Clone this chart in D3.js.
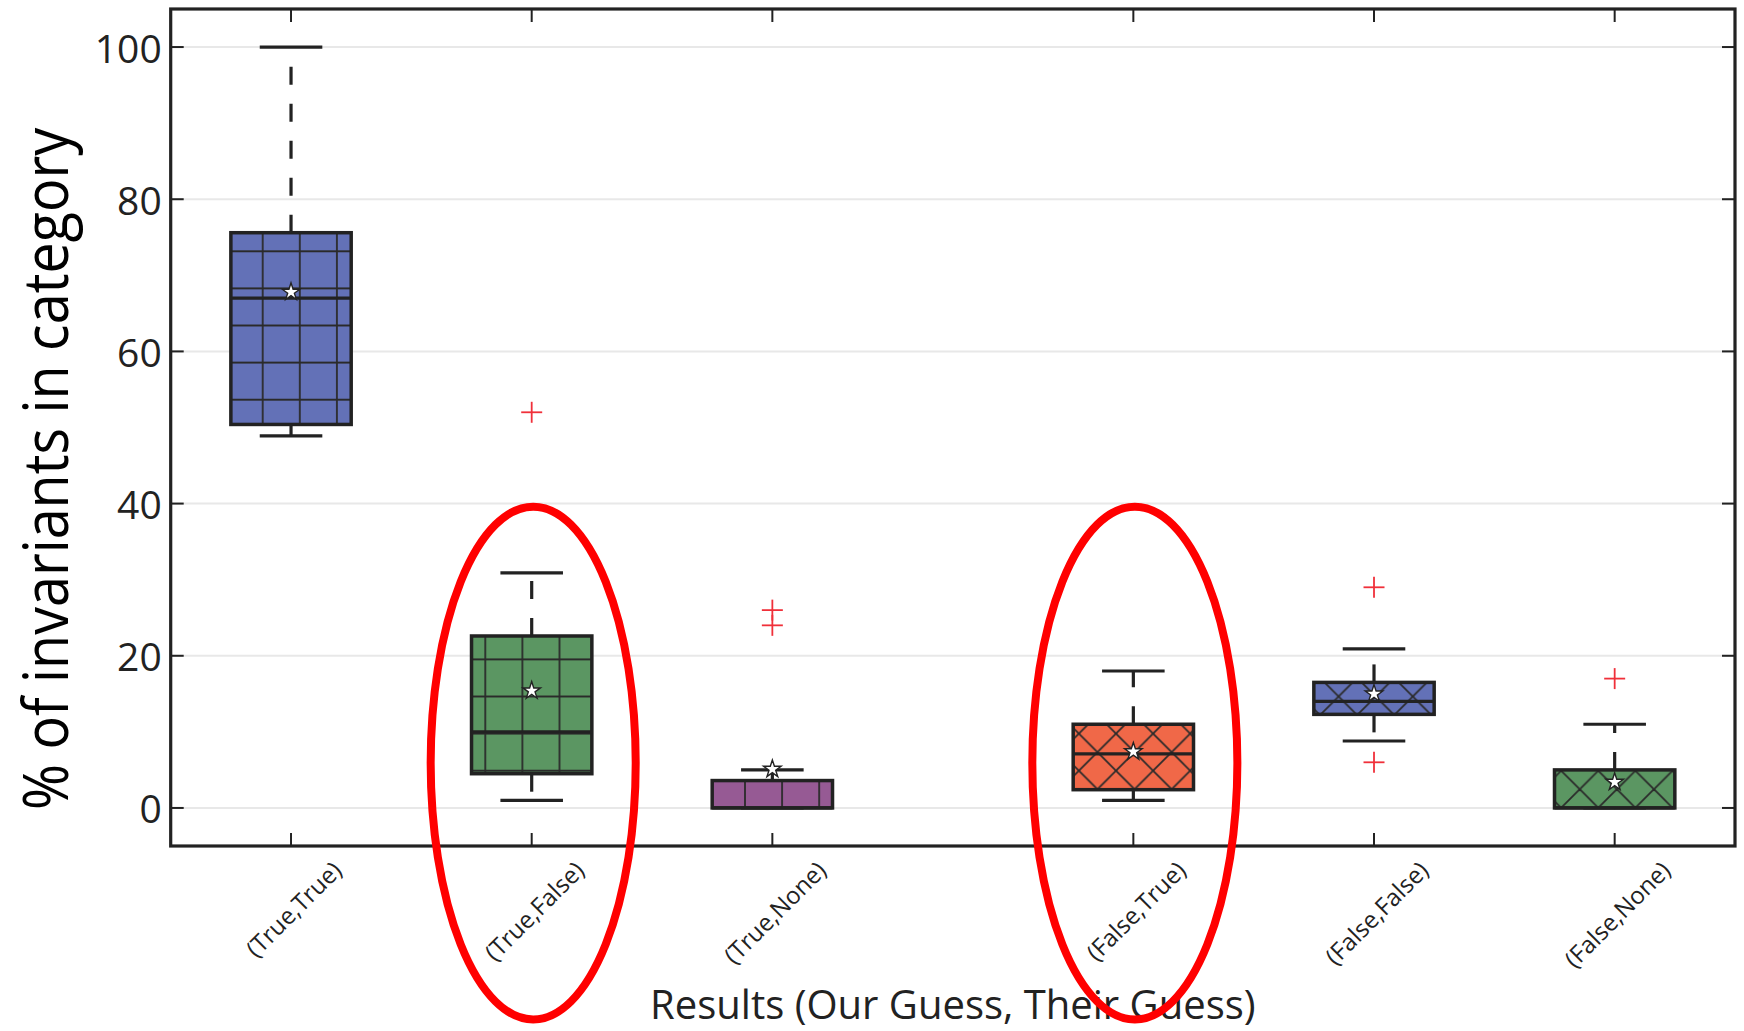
<!DOCTYPE html>
<html>
<head>
<meta charset="utf-8">
<script src="https://cdn.jsdelivr.net/npm/d3@7"></script>
<style>
  body { margin: 0; background: #fff; }
  text { font-family: "Open Sans", sans-serif; }
</style>
</head>
<body>
<div class="chart"></div>
<script>
var categories = ["(True,True)", "(True,False)", "(True,None)", "(False,True)", "(False,False)", "(False,None)"];
var positions = [1, 2, 3, 4.5, 5.5, 6.5];
var q1 = [50.4, 4.5, 0, 2.4, 12.3, 0];
var medians = [67.0, 10.0, 0, 7.1, 14.0, 0];
var q3 = [75.6, 22.6, 3.6, 11.0, 16.5, 5.0];
var whiskLow = [48.9, 1.0, 0, 1.0, 8.8, 0];
var whiskHigh = [100, 30.9, 5.0, 18.0, 20.9, 11.0];
var means = [67.8, 15.4, 5.1, 7.4, 15.0, 3.4];
var outliers = [[], [52], [24, 26], [], [29, 6], [17]];
var yTicks = [0, 20, 40, 60, 80, 100];
var highlighted = ["(True,False)", "(False,True)"];

var fills = ["#6371b7", "#5b9662", "#965a94", "#f06848", "#6371b7", "#5b9662"],
    hatches = ["plus", "plus", "plus", "cross", "cross", "cross"];

var W = 1744, H = 1031,
    pLeft = 170.7, pRight = 1735, pTop = 9, pBottom = 846;

var svg = d3.select(".chart").append("svg")
    .attr("width", W)
    .attr("height", H);

var x = d3.scaleLinear().domain([0.5, 7]).range([pLeft, pRight]);
var y = d3.scaleLinear().domain([-5, 105]).range([pBottom, pTop]);
var unit = x(1) - x(0);

// hatch patterns, tiled from a fixed origin like matplotlib does
var per = 37.1, ox = 262.7 - per / 2, oy = 251.3 - per / 2;
var defs = svg.append("defs");
var pPlus = defs.append("pattern").attr("id", "plus")
    .attr("patternUnits", "userSpaceOnUse")
    .attr("x", ox).attr("y", oy).attr("width", per).attr("height", per);
pPlus.append("line").attr("x1", per / 2).attr("x2", per / 2).attr("y1", 0).attr("y2", per);
pPlus.append("line").attr("y1", per / 2).attr("y2", per / 2).attr("x1", 0).attr("x2", per);
var pCross = defs.append("pattern").attr("id", "cross")
    .attr("patternUnits", "userSpaceOnUse")
    .attr("x", ox).attr("y", oy).attr("width", per).attr("height", per);
pCross.append("line").attr("x1", -2).attr("y1", -2).attr("x2", per + 2).attr("y2", per + 2);
pCross.append("line").attr("x1", -2).attr("y1", per + 2).attr("x2", per + 2).attr("y2", -2);
defs.selectAll("pattern line").attr("stroke", "#2a2a2a").attr("stroke-width", 1.8);

// grid
svg.append("g").selectAll("line")
  .data(yTicks)
  .enter().append("line")
    .attr("x1", pLeft).attr("x2", pRight)
    .attr("y1", d => y(d)).attr("y2", d => y(d))
    .attr("stroke", "#e8e8e8")
    .attr("stroke-width", 2);

var boxes = svg.append("g").selectAll("g")
  .data(categories)
  .enter().append("g");

var bw = 0.5 * unit, cw = 0.26 * unit;

// whiskers
boxes.append("line")
    .attr("x1", (d, i) => x(positions[i])).attr("x2", (d, i) => x(positions[i]))
    .attr("y1", (d, i) => y(q3[i])).attr("y2", (d, i) => y(whiskHigh[i]))
    .attr("stroke", "#222").attr("stroke-width", 3.2)
    .attr("stroke-dasharray", "18,19");
boxes.append("line")
    .attr("x1", (d, i) => x(positions[i])).attr("x2", (d, i) => x(positions[i]))
    .attr("y1", (d, i) => y(q1[i])).attr("y2", (d, i) => y(whiskLow[i]))
    .attr("stroke", "#222").attr("stroke-width", 3.2)
    .attr("stroke-dasharray", "18,19");
[whiskHigh, whiskLow].forEach(arr => {
  boxes.append("line")
      .attr("x1", (d, i) => x(positions[i]) - cw / 2).attr("x2", (d, i) => x(positions[i]) + cw / 2)
      .attr("y1", (d, i) => y(arr[i])).attr("y2", (d, i) => y(arr[i]))
      .attr("stroke", "#222").attr("stroke-width", 3.2);
});

// boxes
boxes.append("rect")
    .attr("x", (d, i) => x(positions[i]) - bw / 2)
    .attr("y", (d, i) => y(q3[i]))
    .attr("width", bw)
    .attr("height", (d, i) => y(q1[i]) - y(q3[i]))
    .attr("fill", (d, i) => fills[i]);
boxes.append("rect")
    .attr("x", (d, i) => x(positions[i]) - bw / 2)
    .attr("y", (d, i) => y(q3[i]))
    .attr("width", bw)
    .attr("height", (d, i) => y(q1[i]) - y(q3[i]))
    .attr("fill", (d, i) => "url(#" + hatches[i] + ")")
    .attr("stroke", "#222")
    .attr("stroke-width", 3.5);

// medians
boxes.append("line")
    .attr("x1", (d, i) => x(positions[i]) - bw / 2).attr("x2", (d, i) => x(positions[i]) + bw / 2)
    .attr("y1", (d, i) => y(medians[i])).attr("y2", (d, i) => y(medians[i]))
    .attr("stroke", "#222").attr("stroke-width", 3.2);

// means
boxes.append("path")
    .attr("d", d3.symbol().type(d3.symbolStar).size(95))
    .attr("transform", (d, i) => "translate(" + x(positions[i]) + "," + y(means[i]) + ")")
    .attr("fill", "#fff")
    .attr("stroke", "#222")
    .attr("stroke-width", 1.4);

// outliers
var flier = [];
outliers.forEach((arr, i) => arr.forEach(v => flier.push({p: positions[i], v: v})));
var fl = svg.append("g").selectAll("g")
  .data(flier)
  .enter().append("g")
    .attr("transform", d => "translate(" + x(d.p) + "," + y(d.v) + ")")
    .attr("stroke", "#f0303a")
    .attr("stroke-width", 1.8);
fl.append("line").attr("x1", -10.5).attr("x2", 10.5);
fl.append("line").attr("y1", -10.5).attr("y2", 10.5);

// frame and ticks
svg.append("rect")
    .attr("x", pLeft).attr("y", pTop)
    .attr("width", pRight - pLeft).attr("height", pBottom - pTop)
    .attr("fill", "none")
    .attr("stroke", "#222")
    .attr("stroke-width", 3.2);

var ticks = svg.append("g").attr("stroke", "#222").attr("stroke-width", 2);
yTicks.forEach(v => {
  ticks.append("line").attr("x1", pLeft).attr("x2", pLeft + 13).attr("y1", y(v)).attr("y2", y(v));
  ticks.append("line").attr("x1", pRight).attr("x2", pRight - 13).attr("y1", y(v)).attr("y2", y(v));
});
positions.forEach(p => {
  ticks.append("line").attr("x1", x(p)).attr("x2", x(p)).attr("y1", pBottom).attr("y2", pBottom - 13);
  ticks.append("line").attr("x1", x(p)).attr("x2", x(p)).attr("y1", pTop).attr("y2", pTop + 13);
});

svg.append("g").selectAll("text")
  .data(yTicks)
  .enter().append("text")
    .attr("x", pLeft - 9)
    .attr("y", d => y(d))
    .attr("text-anchor", "end")
    .attr("dominant-baseline", "central")
    .attr("font-size", 39)
    .attr("fill", "#222")
    .text(d => d);

svg.append("g").selectAll("text")
  .data(categories)
  .enter().append("text")
    .attr("text-anchor", "middle")
    .attr("dominant-baseline", "central")
    .attr("font-size", 24)
    .attr("fill", "#222")
    .text(d => d)
    .attr("transform", function (d, i) {
      var L = this.getComputedTextLength(),
          half = (L + 26) / (2 * Math.SQRT2);
      return "translate(" + (x(positions[i]) + 2) + "," + (pBottom + 10 + half) + ") rotate(-45)";
    });

svg.append("text")
    .attr("x", (pLeft + pRight) / 2)
    .attr("y", 1019)
    .attr("text-anchor", "middle")
    .attr("font-size", 40)
    .attr("fill", "#222")
    .text("Results (Our Guess, Their Guess)");

svg.append("text")
    .attr("transform", "translate(68," + 469 + ") rotate(-90)")
    .attr("text-anchor", "middle")
    .attr("font-size", 62)
    .attr("fill", "#000")
    .attr("textLength", 682)
    .attr("lengthAdjust", "spacingAndGlyphs")
    .text("% of invariants in category");

// red annotation ellipses
svg.append("g").selectAll("ellipse")
  .data(highlighted)
  .enter().append("ellipse")
    .attr("cx", d => x(positions[categories.indexOf(d)]) + 1.5)
    .attr("cy", (y(39.6) + y(-27.8)) / 2)
    .attr("rx", 0.426 * unit)
    .attr("ry", (y(-27.8) - y(39.6)) / 2)
    .attr("fill", "none")
    .attr("stroke", "#ff0000")
    .attr("stroke-width", 8);
</script>
</body>
</html>
